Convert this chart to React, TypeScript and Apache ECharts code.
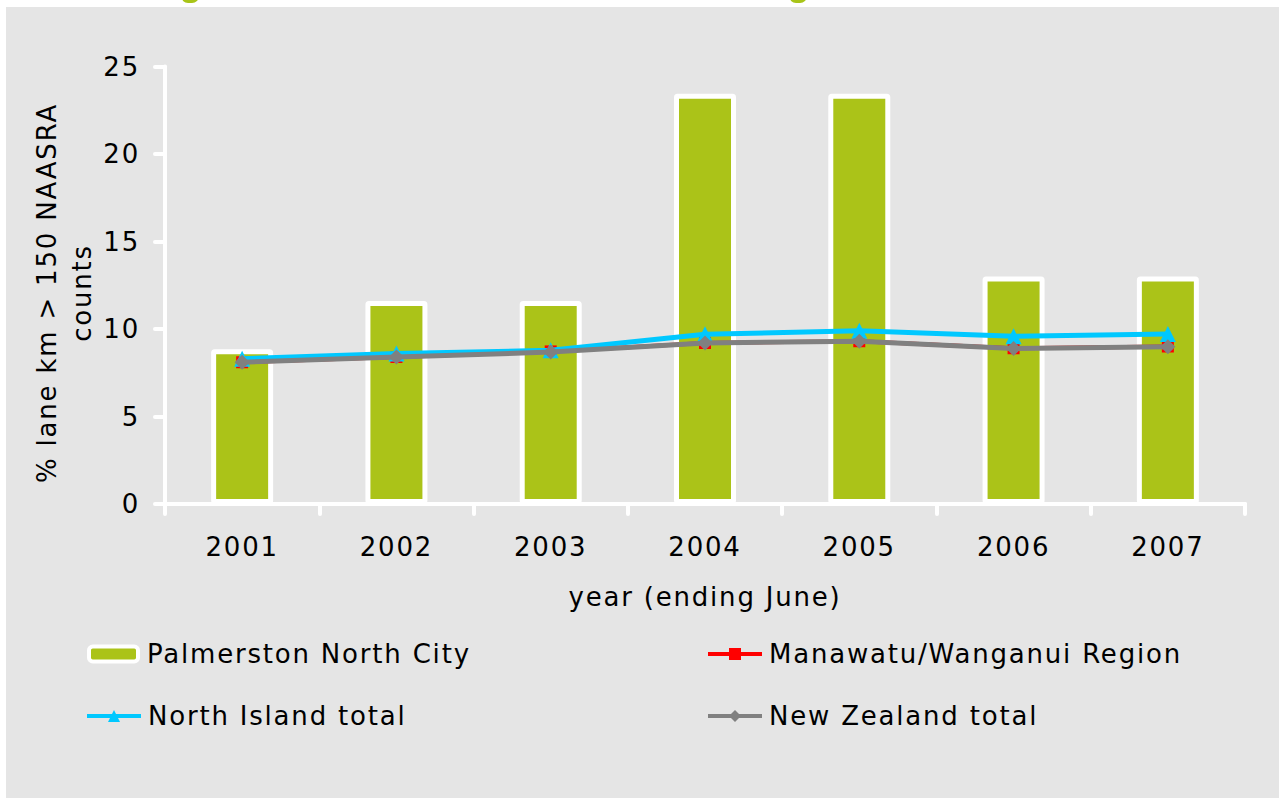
import React, { useEffect, useRef } from "react";
import * as echarts from "echarts";

const years = ["2001", "2002", "2003", "2004", "2005", "2006", "2007"];
const palmerstonNorth = [8.85, 11.6, 11.6, 23.45, 23.45, 13.0, 13.0];
const manawatuWanganui = [8.1, 8.4, 8.72, 9.2, 9.3, 8.9, 9.0];
const northIsland = [8.3, 8.6, 8.78, 9.7, 9.9, 9.58, 9.72];
const newZealand = [8.1, 8.4, 8.68, 9.2, 9.3, 8.88, 8.98];
const yMin = 0;
const yMax = 25;
const yStep = 5;

const FONT = "'DejaVu Sans', Verdana, sans-serif";
const TXT = { color: "#000", fontSize: 26, fontFamily: FONT };

export default function App() {
  const ref = useRef<HTMLDivElement>(null);

  useEffect(() => {
    if (!ref.current) return;
    const chart = echarts.init(ref.current, undefined, { renderer: "svg" });
    const legendBase = {
      orient: "horizontal",
      padding: 0,
      itemHeight: 15,
      textStyle: { ...TXT, padding: [0, 0, 0, 2] },
      selectedMode: false,
      lineStyle: { width: 4 },
    };
    chart.setOption({
      animation: false,
      backgroundColor: "#e5e5e5",
      grid: { left: 159, right: 34, top: 59.5, bottom: 294, containLabel: false },
      xAxis: {
        type: "category",
        data: years,
        boundaryGap: true,
        axisLine: { lineStyle: { color: "#fff", width: 4, cap: "round" } },
        axisTick: { show: true, length: 10, lineStyle: { color: "#fff", width: 4, cap: "round" } },
        axisLabel: { ...TXT, margin: 30 },
        name: "year (ending June)",
        nameLocation: "middle",
        nameGap: 80,
        nameTextStyle: TXT,
      },
      yAxis: {
        type: "value",
        min: yMin,
        max: yMax,
        interval: yStep,
        axisLine: { show: true, lineStyle: { color: "#fff", width: 4, cap: "round" } },
        axisTick: { show: true, length: 10, lineStyle: { color: "#fff", width: 4, cap: "round" } },
        splitLine: { show: false },
        axisLabel: { ...TXT, margin: 25, padding: [10, 0, 0, 0] },
      },
      legend: [
        {
          ...legendBase,
          data: ["Palmerston North City"],
          left: 81,
          top: 634,
          itemWidth: 49,
          itemHeight: 15,
          itemStyle: { color: "#abc318", borderColor: "#fff", borderWidth: 4 },
          textStyle: { ...TXT, padding: [0, 0, 0, 4] },
        },
        { ...legendBase, data: ["Manawatu/Wanganui Region"], left: 700, top: 634, itemWidth: 54 },
        { ...legendBase, data: ["North Island total"], left: 79, top: 696, itemWidth: 54 },
        { ...legendBase, data: ["New Zealand total"], left: 700, top: 696, itemWidth: 54 },
      ],
      graphic: [
        {
          type: "text",
          x: 41,
          y: 286,
          rotation: Math.PI / 2,
          style: { text: "% lane km > 150 NAASRA", fill: "#000", font: `26px ${FONT}`, align: "center", verticalAlign: "middle" },
        },
        {
          type: "text",
          x: 76,
          y: 286,
          rotation: Math.PI / 2,
          style: { text: "counts", fill: "#000", font: `26px ${FONT}`, align: "center", verticalAlign: "middle" },
        },
      ],
      series: [
        {
          type: "bar",
          name: "Palmerston North City",
          data: palmerstonNorth,
          barWidth: 62,
          itemStyle: { color: "#abc318", borderColor: "#fff", borderWidth: 5, borderRadius: 1 },
          z: 2,
        },
        {
          type: "line",
          name: "Manawatu/Wanganui Region",
          data: manawatuWanganui,
          symbol: "rect",
          symbolSize: 12,
          lineStyle: { color: "#ff0000", width: 4 },
          itemStyle: { color: "#ff0000" },
          z: 3,
        },
        {
          type: "line",
          name: "North Island total",
          data: northIsland,
          symbol: "triangle",
          symbolSize: 16,
          lineStyle: { color: "#00c8ff", width: 5 },
          itemStyle: { color: "#00c8ff" },
          z: 4,
        },
        {
          type: "line",
          name: "New Zealand total",
          data: newZealand,
          symbol: "diamond",
          symbolSize: 15,
          lineStyle: { color: "#808080", width: 5 },
          itemStyle: { color: "#808080" },
          z: 5,
        },
      ],
    });
    return () => chart.dispose();
  }, []);

  const descender = (left: number) => (
    <div
      style={{
        position: "absolute",
        left,
        top: -6,
        width: 13,
        height: 6,
        borderBottom: "3px solid #a8c418",
        borderLeft: "2px solid transparent",
        borderRight: "3px solid #a8c418",
        borderBottomLeftRadius: 7,
        borderBottomRightRadius: 7,
      }}
    />
  );

  return (
    <div style={{ position: "absolute", left: 0, top: 0, width: 1279, height: 798, background: "#fff", overflow: "hidden" }}>
      <div style={{ position: "absolute", left: 0, top: 0, width: 1279, height: 7, overflow: "hidden" }}>
        {descender(181)}
        {descender(789)}
      </div>
      <div
        ref={ref}
        style={{ position: "absolute", left: 6, top: 7, width: 1273, height: 791, letterSpacing: "1.8px" }}
      />
    </div>
  );
}
